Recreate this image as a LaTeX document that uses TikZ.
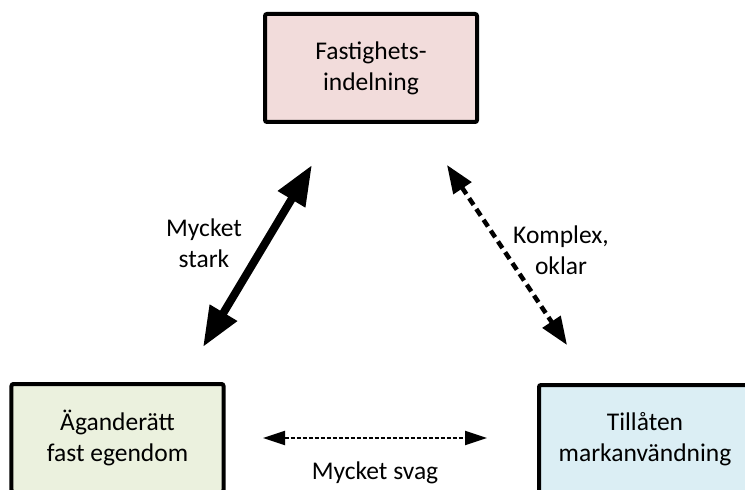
\documentclass[tikz,border=0pt]{standalone}
\usepackage{fontspec}
\setmainfont{Carlito}
\usetikzlibrary{arrows.meta}
\definecolor{pinkfill}{HTML}{F2DCDB}
\definecolor{greenfill}{HTML}{EBF1DE}
\definecolor{bluefill}{HTML}{DBEEF4}
\tikzset{
  box/.style={draw=black, line width=4bp, rounded corners=2bp,
    minimum width=212bp, minimum height=108bp, align=center,
    font=\fontsize{25.5bp}{31bp}\selectfont, inner sep=0pt},
  lbl/.style={align=center, font=\fontsize{25.5bp}{30.5bp}\selectfont, inner sep=0pt},
  strongarrow/.style={line width=8bp, {Triangle[length=40bp,width=30bp]}-{Triangle[length=40bp,width=30bp]}},
  unclear/.style={line width=4.5bp, dash pattern=on 8bp off 5bp, {Triangle[length=28bp,width=21bp]}-{Triangle[length=28bp,width=21bp]}},
  weak/.style={line width=2bp, dash pattern=on 4bp off 2bp, {Triangle[length=22bp,width=14bp]}-{Triangle[length=22bp,width=14bp]}}
}
\begin{document}
\begin{tikzpicture}[x=1bp,y=-1bp]
  \useasboundingbox (0,0) rectangle (745,490);
  \clip (0,0) rectangle (745,490);

  % the three boxes
  \node[box, fill=pinkfill] (fast) at (371,68) {Fastighets-\\indelning};
  \node[box, fill=greenfill] (agande) at (117.5,438) {Äganderätt\\fast egendom};
  \node[box, fill=bluefill] (tillat) at (645,439) {Tillåten\\markanvändning};

  % arrow end points
  \coordinate (a1) at (203,347);
  \coordinate (a2) at (312,165);
  \coordinate (b1) at (447,165);
  \coordinate (b2) at (567,345);
  \coordinate (c1) at (263,438);
  \coordinate (c2) at (487,438);

  \draw[strongarrow] (a1) -- (a2);
  \draw[unclear] (b1) -- (b2);
  \draw[weak] (c1) -- (c2);

  % relation labels
  \node[lbl] (lstark) at (204,243) {Mycket\\stark};
  \node[lbl] (lkomplex) at (561,250) {Komplex,\\oklar};
  \node[lbl] (lsvag) at (375,473) {Mycket svag};
\end{tikzpicture}
\end{document}
